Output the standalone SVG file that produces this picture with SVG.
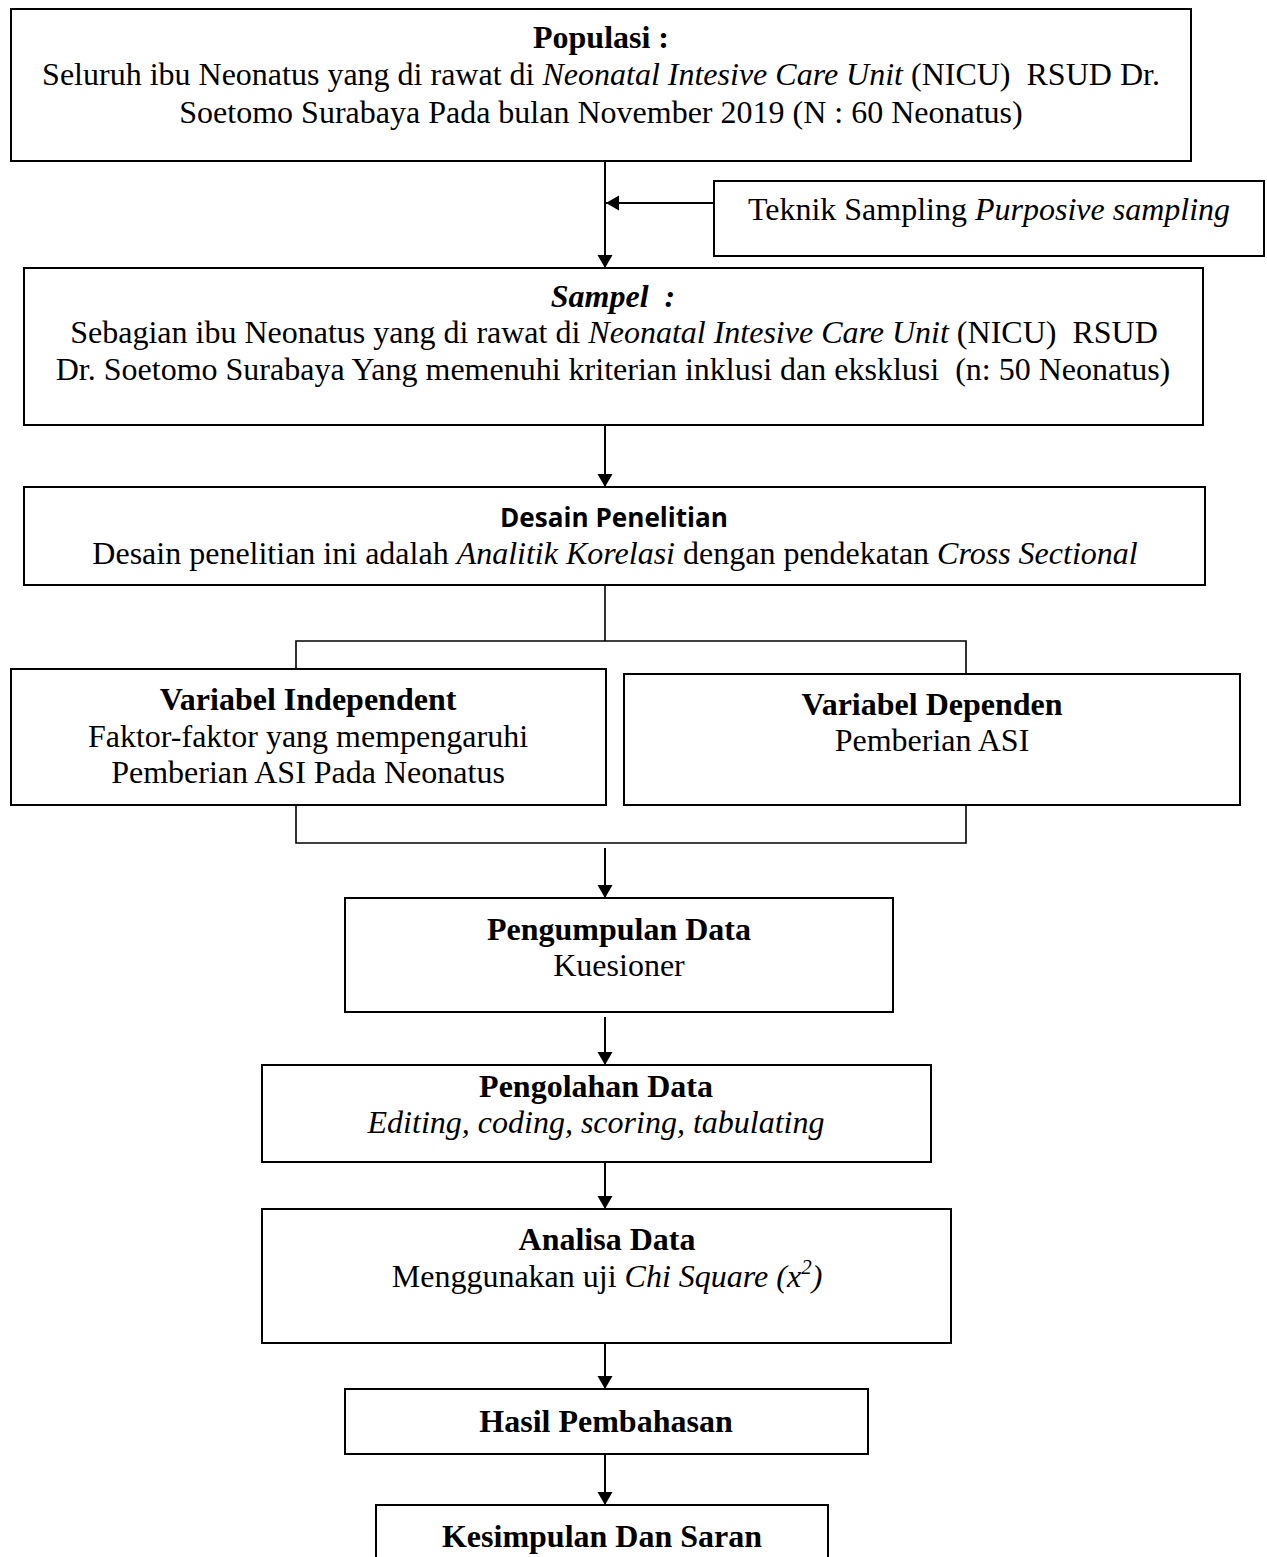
<svg xmlns="http://www.w3.org/2000/svg" width="1267" height="1557" viewBox="0 0 1267 1557">
<style>
.box{fill:#fff;stroke:#000;stroke-width:2}
.t{font-family:"Liberation Serif","Times New Roman",serif;font-size:32px;fill:#000;text-anchor:middle}
.b{font-weight:bold}
.i{font-style:italic}
.sans{font-family:"Open Sans","Liberation Sans",sans-serif;font-weight:bold;font-size:26px;fill:#000;text-anchor:middle}
.ln{fill:none;stroke:#000;stroke-width:2}
.br{fill:none;stroke:#000;stroke-width:1.6}
</style>
<defs>
<marker id="ah" markerUnits="userSpaceOnUse" markerWidth="14" markerHeight="16" refX="13" refY="7.5" orient="auto">
<path d="M0,0 L13,7.5 L0,15 Z" fill="#000"/>
</marker>
</defs>
<rect width="1267" height="1557" fill="#fff"/>

<g id="connectors">
<line class="ln" x1="605" y1="161" x2="605" y2="268" marker-end="url(#ah)"/>
<line class="ln" x1="714" y1="203" x2="606" y2="203" marker-end="url(#ah)"/>
<line class="ln" x1="605" y1="425" x2="605" y2="487" marker-end="url(#ah)"/>
<line class="br" x1="605" y1="585" x2="605" y2="641"/>
<polyline class="br" points="296,669 296,641 966,641 966,674"/>
<polyline class="br" points="296,805 296,843 966,843 966,805"/>
<line class="ln" x1="605" y1="848" x2="605" y2="898" marker-end="url(#ah)"/>
<line class="ln" x1="605" y1="1017" x2="605" y2="1065" marker-end="url(#ah)"/>
<line class="ln" x1="605" y1="1162" x2="605" y2="1209" marker-end="url(#ah)"/>
<line class="ln" x1="605" y1="1343" x2="605" y2="1389" marker-end="url(#ah)"/>
<line class="ln" x1="605" y1="1454" x2="605" y2="1505" marker-end="url(#ah)"/>
</g>

<g id="populasi">
<rect class="box" x="11" y="9" width="1180" height="152"/>
<text class="t b" x="601" y="48">Populasi :</text>
<text class="t" x="601" y="85" xml:space="preserve">Seluruh ibu Neonatus yang di rawat di <tspan class="i">Neonatal Intesive Care Unit</tspan> (NICU)  RSUD Dr.</text>
<text class="t" x="601" y="123">Soetomo Surabaya Pada bulan November 2019 (N : 60 Neonatus)</text>
</g>

<g id="teknik">
<rect class="box" x="714" y="181" width="550" height="75"/>
<text class="t" x="989" y="220">Teknik Sampling <tspan class="i">Purposive sampling</tspan></text>
</g>

<g id="sampel">
<rect class="box" x="24" y="268" width="1179" height="157"/>
<text class="t b i" x="613" y="307" xml:space="preserve">Sampel  :</text>
<text class="t" x="614" y="343" xml:space="preserve">Sebagian ibu Neonatus yang di rawat di <tspan class="i">Neonatal Intesive Care Unit</tspan> (NICU)  RSUD</text>
<text class="t" x="613" y="380" xml:space="preserve">Dr. Soetomo Surabaya Yang memenuhi kriterian inklusi dan eksklusi  (n: 50 Neonatus)</text>
</g>

<g id="desain">
<rect class="box" x="24" y="487" width="1181" height="98"/>
<text class="sans" x="614" y="527" textLength="228" lengthAdjust="spacingAndGlyphs">Desain Penelitian</text>
<text class="t" x="615" y="564">Desain penelitian ini adalah <tspan class="i">Analitik Korelasi</tspan> dengan pendekatan <tspan class="i">Cross Sectional</tspan></text>
</g>

<g id="var-independent">
<rect class="box" x="11" y="669" width="595" height="136"/>
<text class="t b" x="308" y="710">Variabel Independent</text>
<text class="t" x="308" y="747">Faktor-faktor yang mempengaruhi</text>
<text class="t" x="308" y="783">Pemberian ASI Pada Neonatus</text>
</g>

<g id="var-dependen">
<rect class="box" x="624" y="674" width="616" height="131"/>
<text class="t b" x="932" y="715">Variabel Dependen</text>
<text class="t" x="932" y="751">Pemberian ASI</text>
</g>

<g id="pengumpulan">
<rect class="box" x="345" y="898" width="548" height="114"/>
<text class="t b" x="619" y="940">Pengumpulan Data</text>
<text class="t" x="619" y="976">Kuesioner</text>
</g>

<g id="pengolahan">
<rect class="box" x="262" y="1065" width="669" height="97"/>
<text class="t b" x="596" y="1097">Pengolahan Data</text>
<text class="t i" x="596" y="1133">Editing, coding, scoring, tabulating</text>
</g>

<g id="analisa">
<rect class="box" x="262" y="1209" width="689" height="134"/>
<text class="t b" x="607" y="1250">Analisa Data</text>
<text class="t" x="607" y="1287">Menggunakan uji <tspan class="i">Chi Square (x<tspan font-size="21" dy="-13">2</tspan><tspan dy="13">)</tspan></tspan></text>
</g>

<g id="hasil">
<rect class="box" x="345" y="1389" width="523" height="65"/>
<text class="t b" x="606" y="1432">Hasil Pembahasan</text>
</g>

<g id="kesimpulan">
<rect class="box" x="376" y="1505" width="452" height="80"/>
<text class="t b" x="602" y="1547">Kesimpulan Dan Saran</text>
</g>
</svg>
